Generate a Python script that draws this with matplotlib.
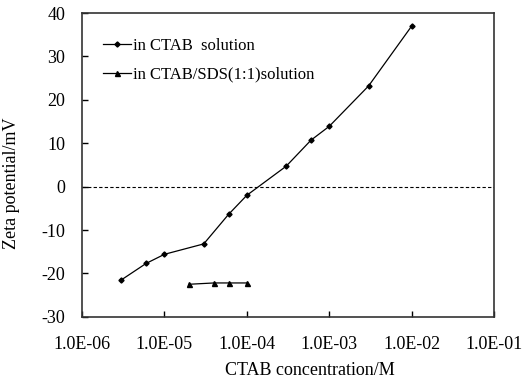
import matplotlib.pyplot as plt
from matplotlib.ticker import FixedLocator, FuncFormatter, NullLocator

# Datos
conc_ctab = [3e-6, 6e-6, 1e-5, 3e-5, 6e-5, 1e-4, 3e-4, 6e-4, 1e-3, 3e-3, 1e-2]
zeta_ctab = [-21.5, -17.7, -15.6, -13.2, -6.4, -2.0, 4.7, 10.7, 13.9, 23.2, 37.0]

conc_mix = [2e-5, 4e-5, 6e-5, 1e-4]
zeta_mix = [-22.5, -22.2, -22.2, -22.2]

x_ticks = [1e-6, 1e-5, 1e-4, 1e-3, 1e-2, 1e-1]
y_ticks = [-30, -20, -10, 0, 10, 20, 30, 40]

plt.rcParams["font.family"] = ["Liberation Serif", "DejaVu Serif"]
plt.rcParams["axes.unicode_minus"] = False

fig = plt.figure(figsize=(5.29, 3.84), dpi=100)
ax = fig.add_axes([0.155, 0.175, 0.779, 0.791])

ax.plot(conc_ctab, zeta_ctab, color="black", lw=0.9, marker="D", ms=2.6,
        label="in CTAB  solution")
ax.plot(conc_mix, zeta_mix, color="black", lw=0.9, marker="^", ms=3.6,
        label="in CTAB/SDS(1:1)solution")
ax.axhline(0, color="black", lw=0.8, ls=(0, (3, 2)))

ax.set_xscale("log")
ax.set_xlim(1e-6, 1e-1)
ax.set_ylim(-30, 40)
ax.xaxis.set_major_locator(FixedLocator(x_ticks))
ax.xaxis.set_minor_locator(NullLocator())
ax.xaxis.set_major_formatter(FuncFormatter(lambda v, p: f"{v:.1E}"))
ax.set_yticks(y_ticks)

ax.tick_params(direction="in", length=4, width=1, labelsize=13)
ax.tick_params(axis="x", pad=14)
ax.tick_params(axis="y", pad=12)
for s in ax.spines.values():
    s.set_linewidth(1.2)
    s.set_color("#333333")

ax.set_xlabel("CTAB concentration/M", fontsize=13)
ax.xaxis.set_label_coords(0.553, -0.148)
ax.set_ylabel("Zeta potential/mV", fontsize=13)
ax.yaxis.set_label_coords(-0.15, 0.44)

ax.legend(loc="upper left", bbox_to_anchor=(0.051, 0.918), frameon=False,
          borderaxespad=0, borderpad=0, fontsize=12, handlelength=1.7,
          handletextpad=0.1, labelspacing=0.75)

fig.savefig("out.png", dpi=100)
